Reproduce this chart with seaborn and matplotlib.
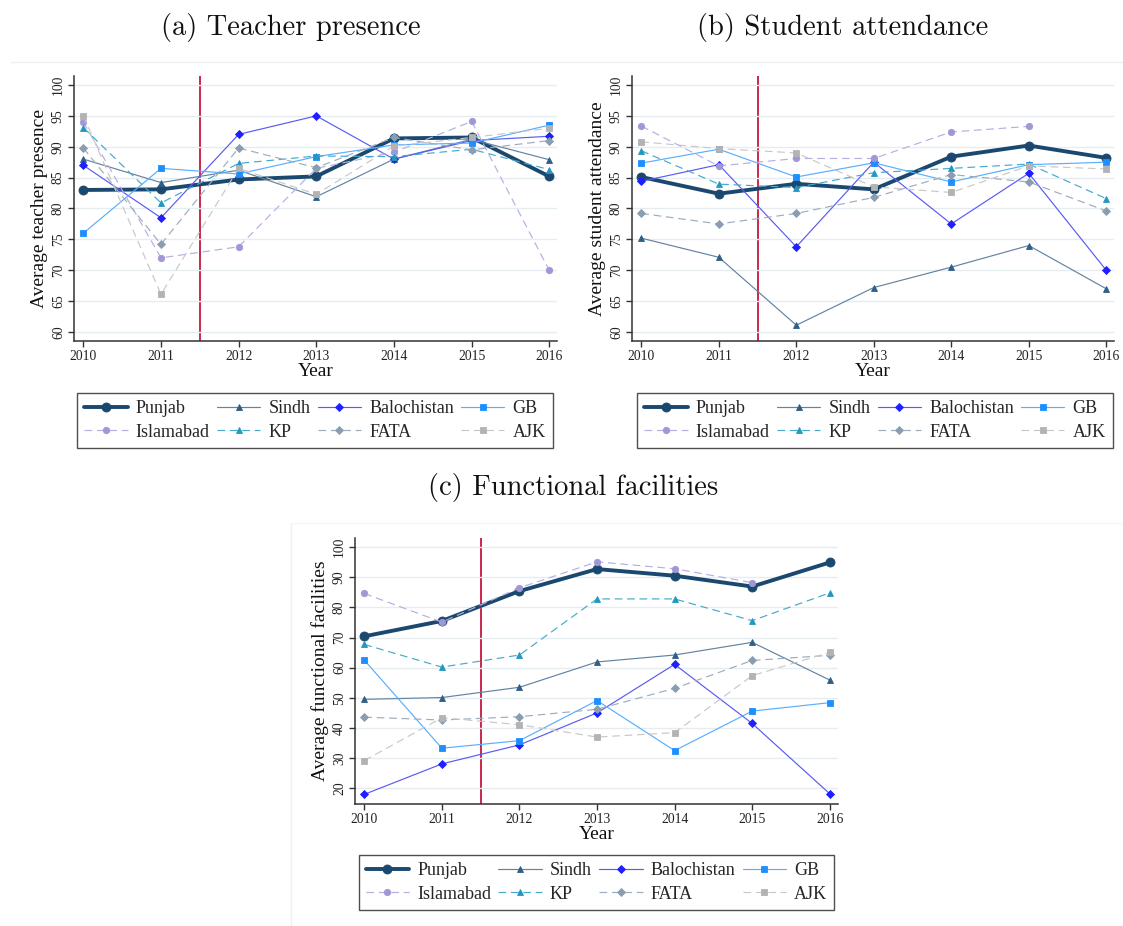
import numpy as np
import pandas as pd
import matplotlib
matplotlib.use("Agg")
import matplotlib.pyplot as plt
from matplotlib.lines import Line2D
import seaborn as sns

# ---- data -------------------------------------------------------------
years = [2010, 2011, 2012, 2013, 2014, 2015, 2016]
regions = ["Punjab", "Sindh", "Balochistan", "GB", "Islamabad", "KP", "FATA", "AJK"]

teacher_punjab = [83.0, 83.1, 84.7, 85.2, 91.35, 91.5, 85.2]
teacher_sindh = [88.0, 84.2, 86.2, 81.9, 88.0, 91.2, 87.9]
teacher_balochistan = [87.0, 78.5, 92.0, 95.0, 88.0, 91.0, 91.7]
teacher_gb = [76.0, 86.5, 85.6, 88.4, 90.3, 90.6, 93.5]
teacher_islamabad = [94.0, 72.0, 73.8, 86.5, 89.1, 94.1, 70.0]
teacher_kp = [93.1, 80.9, 87.3, 88.5, 88.4, 89.6, 86.3]
teacher_fata = [89.8, 74.2, 89.8, 86.6, 91.5, 89.5, 91.0]
teacher_ajk = [95.0, 66.1, 86.5, 82.3, 90.1, 91.5, 93.0]

student_punjab = [85.1, 82.4, 84.0, 83.1, 88.4, 90.2, 88.2]
student_sindh = [75.2, 72.1, 61.1, 67.2, 70.5, 74.0, 67.0]
student_balochistan = [84.4, 87.1, 73.8, 87.5, 77.5, 85.7, 70.0]
student_gb = [87.35, 89.6, 85.1, 87.4, 84.3, 87.1, 87.5]
student_islamabad = [93.35, 86.9, 88.1, 88.1, 92.4, 93.3, np.nan]
student_kp = [89.35, 83.95, 83.4, 85.8, 86.5, 87.2, 81.6]
student_fata = [79.2, 77.5, 79.2, 81.8, 85.5, 84.3, 79.6]
student_ajk = [90.8, 89.7, 89.0, 83.5, 82.6, 86.9, 86.4]

facility_punjab = [70.4, 75.5, 85.4, 92.7, 90.5, 86.9, 94.9]
facility_sindh = [49.5, 50.1, 53.5, 61.9, 64.2, 68.4, 55.9]
facility_balochistan = [18.0, 28.1, 34.4, 45.0, 61.1, 41.5, 18.2]
facility_gb = [62.5, 33.3, 35.8, 49.1, 32.5, 45.6, 48.4]
facility_islamabad = [84.6, 75.1, 86.5, 95.1, 92.8, 88.2, np.nan]
facility_kp = [67.7, 60.2, 64.2, 82.8, 82.8, 75.6, 84.8]
facility_fata = [43.6, 42.65, 43.75, 46.2, 53.15, 62.4, 64.1]
facility_ajk = [29.2, 43.4, 41.1, 37.0, 38.45, 57.35, 65.1]

titles = ["(a) Teacher presence", "(b) Student attendance", "(c) Functional facilities"]
ylabels = ["Average teacher presence", "Average student attendance",
           "Average functional facilities"]
reform_year = 2011.5


def long_frame(series):
    rows = []
    for name, vals in zip(regions, series):
        for yr, v in zip(years, vals):
            rows.append({"Year": yr, "Region": name, "Value": v})
    return pd.DataFrame(rows)


panels = [
    long_frame([teacher_punjab, teacher_sindh, teacher_balochistan, teacher_gb,
                teacher_islamabad, teacher_kp, teacher_fata, teacher_ajk]),
    long_frame([student_punjab, student_sindh, student_balochistan, student_gb,
                student_islamabad, student_kp, student_fata, student_ajk]),
    long_frame([facility_punjab, facility_sindh, facility_balochistan, facility_gb,
                facility_islamabad, facility_kp, facility_fata, facility_ajk]),
]

# ---- styling ----------------------------------------------------------
sns.set_theme(style="white")
plt.rcParams["font.family"] = ["Liberation Serif", "DejaVu Serif"]

marker_col = {"Punjab": "#1B486F", "Sindh": "#2F5E86", "Balochistan": "#1F1FFF",
              "GB": "#1E8FFF", "Islamabad": "#A098D6", "KP": "#2497BF",
              "FATA": "#8B9DB1", "AJK": "#B3B3B3"}
line_col = {"Punjab": "#1B486F", "Sindh": "#6383A2", "Balochistan": "#5A5AF5",
            "GB": "#5AAEFF", "Islamabad": "#B6AEE2", "KP": "#45A9CC",
            "FATA": "#9DACBD", "AJK": "#C8C8C8"}
markers = {"Punjab": "o", "Sindh": "^", "Balochistan": "D", "GB": "s",
           "Islamabad": "o", "KP": "^", "FATA": "D", "AJK": "s"}
msize = {"Punjab": 6.5, "Sindh": 5.0, "Balochistan": 4.2, "GB": 4.6,
         "Islamabad": 4.6, "KP": 5.0, "FATA": 4.2, "AJK": 4.6}
lwidth = {r: 0.85 for r in regions}
lwidth["Punjab"] = 2.8
dashed = {"Islamabad", "KP", "FATA", "AJK"}

fig = plt.figure(figsize=(11.23, 9.26), dpi=100)
W, H = 1123.0, 926.0

# axes boxes in pixel terms: left, top, right, bottom
boxes = [(74, 76, 557, 341), (632, 76, 1114, 341), (355, 538.3, 837.5, 804)]
ylims = [(58.54, 101.46), (58.54, 101.46), (14.8, 102.9)]
yticks = [np.arange(60, 101, 5), np.arange(60, 101, 5), np.arange(20, 101, 10)]
title_pos = [(291, 28), (843, 28), (573, 488)]
legend_pos = [(315, 393), (875, 393), (596.5, 855)]

# faint outer frames of the panels
fig.add_artist(Line2D([11 / W, 1.0], [1 - 62 / H, 1 - 62 / H], color="#EDF1F3", lw=1.0))
fig.add_artist(Line2D([291 / W, 291 / W], [0.0, 1 - 523 / H], color="#EDF1F3", lw=1.0))
fig.add_artist(Line2D([291 / W, 1.0], [1 - 523 / H, 1 - 523 / H], color="#F3F6F7", lw=1.0))

for i, df in enumerate(panels):
    l, t, r, b = boxes[i]
    ax = fig.add_axes([l / W, 1 - b / H, (r - l) / W, (b - t) / H])
    handles = {}
    for name in regions:
        sub = df[df["Region"] == name]
        kw = dict(color=line_col[name], marker=markers[name], markersize=msize[name],
                  markerfacecolor=marker_col[name], markeredgecolor=marker_col[name],
                  linewidth=lwidth[name], markeredgewidth=0.6)
        if name in dashed:
            kw["linestyle"] = (0, (6.5, 4))
        sns.lineplot(data=sub, x="Year", y="Value", ax=ax, legend=False, **kw)
        handles[name] = Line2D([], [], **kw)

    ax.axvline(reform_year, color="#C8163F", lw=1.3, zorder=0.5)

    ax.set_xlim(2009.88, 2016.1)
    ax.set_ylim(*ylims[i])
    ax.set_xticks(years)
    ax.set_yticks(yticks[i])
    ax.yaxis.grid(True, color="#E5EDF0", lw=1.0)
    ax.xaxis.grid(False)
    ax.set_axisbelow(True)
    for s in ["top", "right"]:
        ax.spines[s].set_visible(False)
    for s in ["left", "bottom"]:
        ax.spines[s].set_color("#333333")
        ax.spines[s].set_linewidth(1.1)
    ax.tick_params(axis="both", which="major", direction="out", length=4.5,
                   width=1.0, color="#333333", labelsize=9.8, labelcolor="#222222",
                   left=True, bottom=True, pad=2)
    for lab in ax.get_yticklabels():
        lab.set_rotation(90)
        lab.set_va("center")
    ax.set_xlabel("Year", fontsize=14, labelpad=0, color="#111111")
    ax.set_ylabel(ylabels[i], fontsize=14, labelpad=3, color="#111111")

    tx, ty = title_pos[i]
    fig.text(tx / W, 1 - ty / H, titles[i], ha="center", va="center",
             fontsize=20.5, family=["cmr10", "DejaVu Serif"], color="#111111")

    order = ["Punjab", "Islamabad", "Sindh", "KP", "Balochistan", "FATA", "GB", "AJK"]
    lx, ly = legend_pos[i]
    leg = fig.legend([handles[n] for n in order], order, ncol=4,
                     loc="upper center", bbox_to_anchor=(lx / W, 1 - ly / H),
                     bbox_transform=fig.transFigure, frameon=True, fancybox=False,
                     fontsize=13, handlelength=2.4, handletextpad=0.45,
                     columnspacing=0.4, labelspacing=0.35, borderpad=0.4,
                     borderaxespad=0)
    leg.get_frame().set_edgecolor("#222222")
    leg.get_frame().set_linewidth(1.0)

fig.savefig("out.png", dpi=100, facecolor="white")
